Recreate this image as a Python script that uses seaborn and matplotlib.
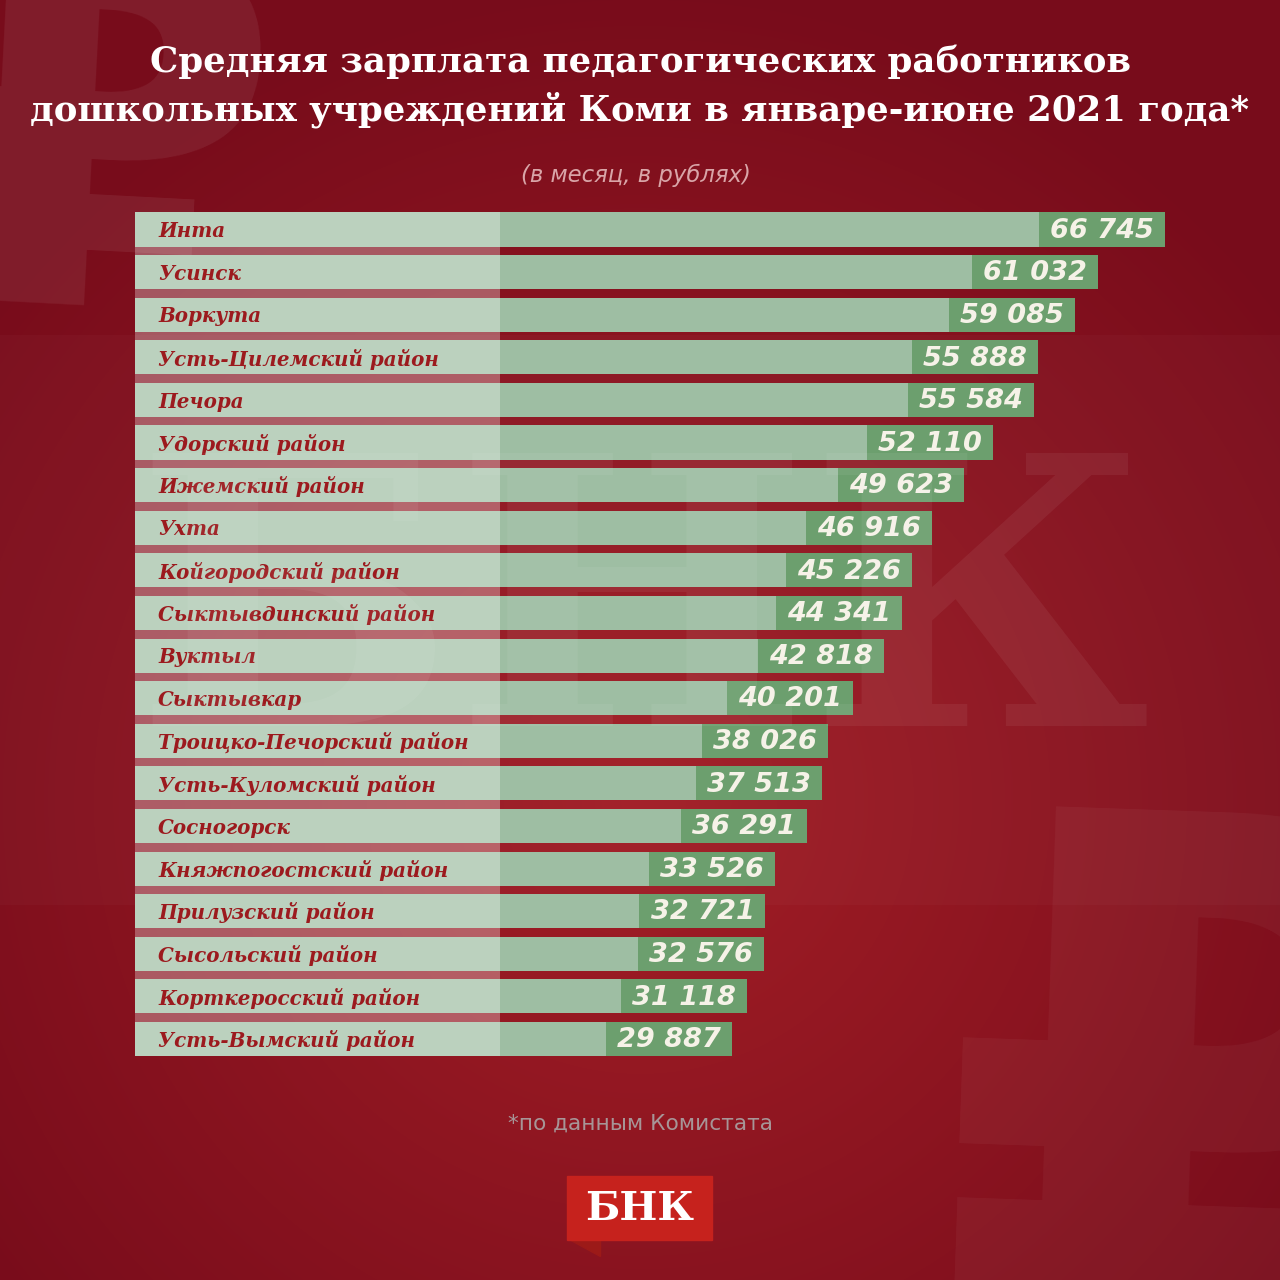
import numpy as np
import pandas as pd
import matplotlib
matplotlib.use('Agg')
import matplotlib.pyplot as plt
import seaborn as sns
from matplotlib.patches import Rectangle, Polygon

# Data
regions = ['Инта', 'Усинск', 'Воркута', 'Усть-Цилемский район', 'Печора',
           'Удорский район', 'Ижемский район', 'Ухта', 'Койгородский район',
           'Сыктывдинский район', 'Вуктыл', 'Сыктывкар', 'Троицко-Печорский район',
           'Усть-Куломский район', 'Сосногорск', 'Княжпогостский район',
           'Прилузский район', 'Сысольский район', 'Корткеросский район',
           'Усть-Вымский район']
salaries = [66745, 61032, 59085, 55888, 55584, 52110, 49623, 46916, 45226, 44341,
            42818, 40201, 38026, 37513, 36291, 33526, 32721, 32576, 31118, 29887]

title_lines = ['Средняя зарплата педагогических работников',
               'дошкольных учреждений Коми в январе-июне 2021 года*']
subtitle = '(в месяц, в рублях)'
footnote = '*по данным Комистата'

df = pd.DataFrame({'region': regions, 'salary': salaries})

sns.set_theme(style='white')
plt.rcParams['font.family'] = ['DejaVu Sans']

W, H = 1280, 1280
fig = plt.figure(figsize=(12.8, 12.8), dpi=100)

# background: dark red with soft radial glow
bg = fig.add_axes([0, 0, 1, 1], zorder=0)
yy, xx = np.mgrid[0:H, 0:W]
r = np.clip(np.hypot((xx - 640) / 820, (yy - 800) / 820), 0, 1)
c_in = np.array([162, 30, 38]) / 255
c_out = np.array([120, 12, 27]) / 255
img = c_in[None, None, :] * (1 - r[..., None]) + c_out[None, None, :] * r[..., None]
bg.imshow(img, extent=(0, W, H, 0), aspect='auto')
bg.set_xlim(0, W)
bg.set_ylim(H, 0)
bg.axis('off')
# lighter middle band
bg.add_patch(Rectangle((0, 335), W, 570, color='white', alpha=0.025, lw=0))

# ruble watermarks
bg.text(100, 315, '₽', fontsize=360, color='white', alpha=0.07, rotation=-3,
        ha='center', va='baseline', fontweight='bold', clip_on=True)
bg.text(1205, 1388, '₽', fontsize=560, color='white', alpha=0.045, rotation=-2,
        ha='center', va='baseline', fontweight='bold', clip_on=True)

# titles
for i, line in enumerate(title_lines):
    bg.text(640, 62 + i * 48, line, fontsize=25.6, color='white', ha='center',
            va='center', fontweight='bold', family='DejaVu Serif')
bg.text(636, 175, subtitle, fontsize=16.4, color='#D9A5A8', ha='center',
        va='center', style='italic')
bg.text(640, 1124, footnote, fontsize=15.6, color='#A79597', ha='center',
        va='center')

# logo
bg.add_patch(Polygon([(567, 1238), (600, 1238), (600, 1256)], closed=True,
                     color='#9C1A18'))
bg.add_patch(Rectangle((567, 1176), 145, 64, color='#C6221D'))
bg.text(640, 1209, 'БНК', fontsize=29, color='white', ha='center', va='center',
        fontweight='bold', family='DejaVu Serif')

# chart axes (pixel layout)
px_left, px_right = 135, 1180
px_top, px_bottom = 208.2, 1060.3
scale = 0.01175   # px per rouble
zero_px = 381

ax = fig.add_axes([px_left / W, 1 - px_bottom / H,
                   (px_right - px_left) / W, (px_bottom - px_top) / H], zorder=1)
ax.patch.set_alpha(0)

def to_data(px):
    return (px - zero_px) / scale

x0 = to_data(px_left)
box_w = 126 / scale
rows = np.arange(len(df))

sns.barplot(data=df, x='salary', y='region', orient='h', color='#9EBEA3',
            width=0.8, saturation=1, linewidth=0, edgecolor='none', ax=ax, zorder=1)
# extend every bar to the left edge
ax.barh(rows, 0 - x0 + 50, left=x0, height=0.8, color='#9EBEA3', lw=0, zorder=1)
# value boxes
ax.barh(rows, box_w, left=df['salary'] - box_w, height=0.8,
        color='#6C9F6E', lw=0, zorder=2)
# translucent label panel
ax.add_patch(Rectangle((x0, -0.4), to_data(500) - x0, len(df) - 0.2,
                       color='white', alpha=0.3, lw=0, zorder=3))

for i, (name, val) in enumerate(zip(df['region'], df['salary'])):
    ax.text(to_data(158), i + 0.04, name, ha='left', va='center', fontsize=14.3,
            color='#9C1A1E', fontweight='bold', style='italic',
            family='DejaVu Serif', zorder=4)
    ax.text(val - box_w / 2, i + 0.03, f'{val:,}'.replace(',', ' '), ha='center',
            va='center', fontsize=19.5, color='#F6F2E8', fontweight='bold',
            style='italic', zorder=4)

ax.set_xlim(x0, to_data(px_right))
ax.set_ylim(len(df) - 0.5, -0.5)
ax.axis('off')

# big logo watermark over the chart
fig.text(642 / W, 1 - 622 / H, 'БНК', fontsize=270, color='white', alpha=0.06,
         ha='center', va='center', fontweight='bold', family='DejaVu Serif',
         zorder=5)

fig.savefig('out.png', dpi=100)
